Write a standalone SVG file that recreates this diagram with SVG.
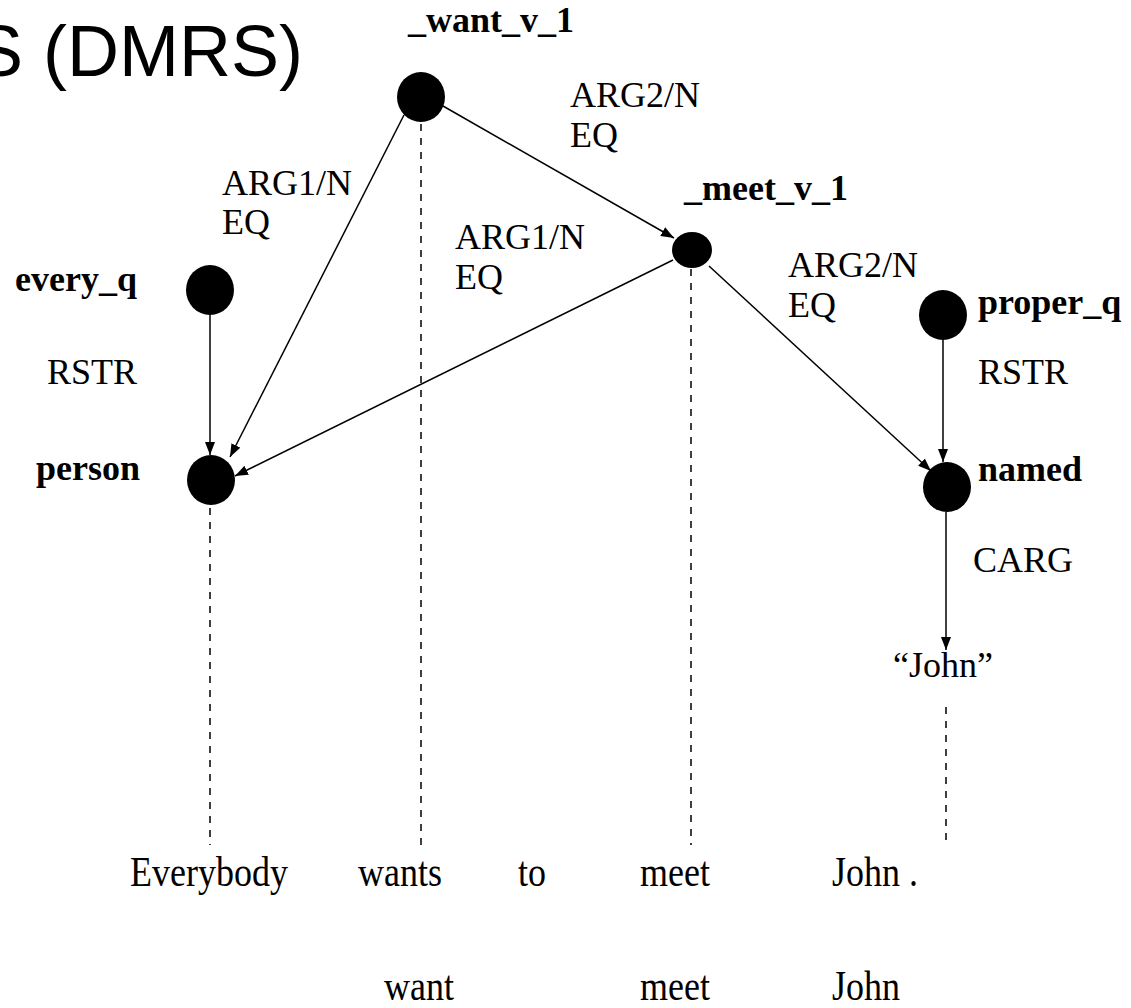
<svg xmlns="http://www.w3.org/2000/svg" width="1131" height="1008" viewBox="0 0 1131 1008">
  <defs>
    <marker id="arrow" viewBox="0 0 13 10" refX="13" refY="5" markerWidth="13" markerHeight="10" markerUnits="userSpaceOnUse" orient="auto">
      <path d="M0,0 L13,5 L0,10 Z" fill="#000"/>
    </marker>
    <style>
      .title { font-family: "Liberation Sans", Arial, sans-serif; font-size: 72px; fill: #000; }
      .nlabel { font-family: "Liberation Serif", "Times New Roman", serif; font-weight: bold; font-size: 36px; fill: #000; }
      .elabel { font-family: "Liberation Serif", "Times New Roman", serif; font-size: 36px; fill: #000; }
      .word { font-family: "Liberation Serif", "Times New Roman", serif; font-size: 36px; fill: #000; }
      .node { fill: #000; }
      .edge { stroke: #000; stroke-width: 1.5; fill: none; marker-end: url(#arrow); }
      .anchor { stroke: #000; stroke-width: 1.5; stroke-dasharray: 7 7; fill: none; }
    </style>
  </defs>
  <rect width="1131" height="1008" fill="#fff"/>

  <text class="title" x="-25" y="76">S (DMRS)</text>

  <!-- dashed links from predicates down to the surface tokens -->
  <g id="anchors">
    <line class="anchor" x1="210" y1="508" x2="210" y2="845"/>
    <line class="anchor" x1="421" y1="124" x2="421" y2="845"/>
    <line class="anchor" x1="691" y1="269" x2="691" y2="845"/>
    <line class="anchor" x1="946" y1="707" x2="946" y2="845"/>
  </g>

  <!-- dependency arcs -->
  <g id="connectors">
    <line class="edge" x1="404" y1="115" x2="230" y2="457"/>
    <line class="edge" x1="443" y1="106" x2="674" y2="238"/>
    <line class="edge" x1="673" y1="260" x2="235" y2="476"/>
    <line class="edge" x1="709" y1="266" x2="931" y2="471"/>
    <line class="edge" x1="210" y1="315" x2="210" y2="455"/>
    <line class="edge" x1="943" y1="340" x2="943" y2="462"/>
    <line class="edge" x1="946" y1="512" x2="946" y2="650"/>
    <text class="elabel" x="222" y="195">ARG1/N</text>
    <text class="elabel" x="222" y="234">EQ</text>
    <text class="elabel" x="570" y="107">ARG2/N</text>
    <text class="elabel" x="570" y="147">EQ</text>
    <text class="elabel" x="455" y="249">ARG1/N</text>
    <text class="elabel" x="455" y="289">EQ</text>
    <text class="elabel" x="788" y="277">ARG2/N</text>
    <text class="elabel" x="788" y="317">EQ</text>
    <text class="elabel" x="137" y="384" text-anchor="end">RSTR</text>
    <text class="elabel" x="978" y="384">RSTR</text>
    <text class="elabel" x="973" y="572">CARG</text>
  </g>

  <g id="want_v_1">
    <ellipse class="node" cx="421" cy="97" rx="24" ry="25"/>
    <text class="nlabel" x="408" y="32">_want_v_1</text>
  </g>
  <g id="meet_v_1">
    <ellipse class="node" cx="692" cy="250" rx="20" ry="18"/>
    <text class="nlabel" x="684" y="200">_meet_v_1</text>
  </g>
  <g id="every_q">
    <ellipse class="node" cx="210" cy="290" rx="24" ry="25"/>
    <text class="nlabel" x="137" y="291" text-anchor="end">every_q</text>
  </g>
  <g id="person">
    <ellipse class="node" cx="211" cy="480" rx="24" ry="25"/>
    <text class="nlabel" x="140" y="480" text-anchor="end">person</text>
  </g>
  <g id="proper_q">
    <ellipse class="node" cx="943" cy="315" rx="24" ry="25"/>
    <text class="nlabel" x="978" y="314">proper_q</text>
  </g>
  <g id="named">
    <ellipse class="node" cx="947" cy="487" rx="24" ry="25"/>
    <text class="nlabel" x="978" y="481">named</text>
  </g>
  <g id="carg_john">
    <text class="elabel" x="893" y="677">“John”</text>
  </g>

  <!-- surface sentence and lemmas, set in a slightly tall face -->
  <g id="tokens">
    <g transform="matrix(1 0 0 1.2 0 -177.2)">
      <text class="word" x="130" y="886">Everybody</text>
      <text class="word" x="358" y="886">wants</text>
      <text class="word" x="518" y="886">to</text>
      <text class="word" x="640" y="886">meet</text>
      <text class="word" x="832" y="886">John .</text>
    </g>
    <g transform="matrix(1 0 0 1.2 0 -200)">
      <text class="word" x="384" y="1000">want</text>
      <text class="word" x="640" y="1000">meet</text>
      <text class="word" x="832" y="1000">John</text>
    </g>
  </g>
</svg>
